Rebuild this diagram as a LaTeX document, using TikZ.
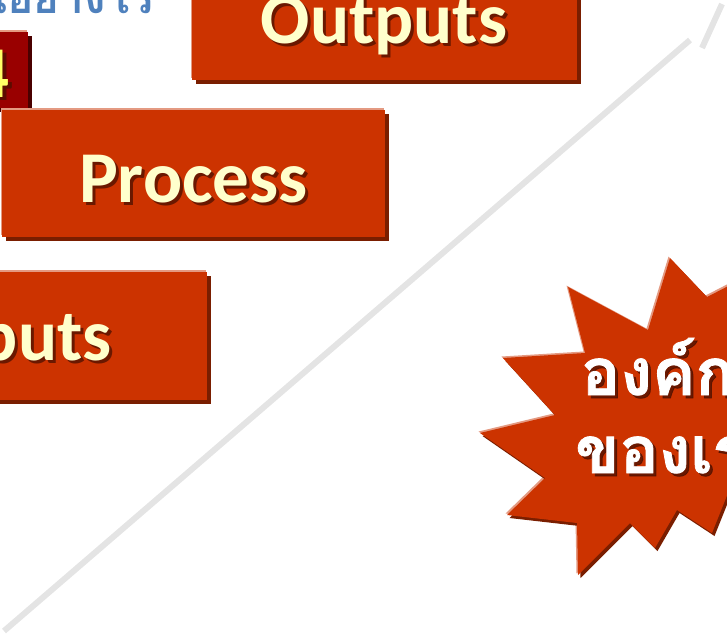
\documentclass[tikz,border=0pt]{standalone}
\usepackage{fontspec}
\setmainfont{Carlito}
\newfontfamily\thaifont[Script=Thai]{Loma}
\newfontfamily\thaiheavy[Script=Thai,FakeBold=1.2]{Loma}
\usetikzlibrary{shadows}
\definecolor{boxred}{HTML}{CC3300}
\definecolor{boxdark}{HTML}{7A1E00}
\definecolor{boxlight}{HTML}{E49A82}
\definecolor{darkbox}{HTML}{990000}
\definecolor{darkboxsh}{HTML}{4A0000}
\definecolor{cream}{HTML}{FFFFCC}
\definecolor{numyellow}{HTML}{FFFF66}
\definecolor{titleblue}{HTML}{4F81BD}
\definecolor{linegray}{HTML}{E4E4E4}
\definecolor{txtshadow}{HTML}{4A1000}
\tikzset{
  redbox/.style={rectangle, inner sep=0pt, fill=boxred,
    general shadow={shadow xshift=-1.5pt, shadow yshift=2.5pt, fill=boxlight},
    general shadow={shadow xshift=4pt, shadow yshift=-4pt, fill=boxdark}},
  numbox/.style={rectangle, inner sep=0pt, fill=darkbox,
    general shadow={shadow xshift=-1.5pt, shadow yshift=2.5pt, fill=boxlight},
    general shadow={shadow xshift=4pt, shadow yshift=-4pt, fill=darkboxsh}},
  bigtxt/.style={inner sep=0pt, anchor=base, text=cream, font=\fontsize{73}{80}\selectfont\bfseries},
  bigsh/.style={bigtxt, text=txtshadow, opacity=0.75},
  thaitxt/.style={inner sep=0pt, anchor=base west, text=white, font=\thaiheavy\fontsize{65}{70}\selectfont\bfseries},
  thaish/.style={thaitxt, text=txtshadow, opacity=0.75},
  divider/.style={draw=linegray, line width=6pt},
}
\begin{document}
\begin{tikzpicture}[x=1pt,y=-1pt]
\useasboundingbox (0,0) rectangle (727,635);
\clip (0,0) rectangle (727,635);

% diagonal divider
\coordinate (d1) at (4,631);
\coordinate (d2) at (690,40);
\coordinate (d3) at (702,48);
\coordinate (d4) at (722,4);
\draw[divider] (d1) -- (d2);
\draw[divider] (d3) -- (d4);

% title (cut at top)
\node[inner sep=0pt, anchor=base east, text=titleblue, font=\thaifont\fontsize{44}{48}\selectfont\bfseries] (title) at (154,13) {เป็นอย่างไร};

% number box
\node[numbox, minimum width=73pt, minimum height=76pt] (nbox) at (-8.5,70) {};
\node[bigtxt, text=txtshadow, opacity=0.75] (nums) at (-5.5,100) {4};
\node[bigtxt, text=numyellow] (num) at (-8.5,97) {4};

% boxes
\node[redbox, minimum width=385pt, minimum height=127pt] (outbox) at (384.5,16.5) {};
\node[redbox, minimum width=383pt, minimum height=127pt] (procbox) at (193.5,173.5) {};
\node[redbox, minimum width=382pt, minimum height=128pt] (inbox) at (16,336) {};

\node[bigsh] (outs) at (387,46) {Outputs};
\node[bigtxt] (out) at (384,43) {Outputs};
\node[bigsh] (procs) at (196.5,205) {Process};
\node[bigtxt] (proc) at (193.5,202) {Process};
\node[bigsh] (ins) at (19,363) {Inputs};
\node[bigtxt] (in) at (16,360) {Inputs};

% starburst
\def\burst{(670,258) -- (707,297) -- (775,262) -- (760,330) -- (830,330) -- (775,390) -- (840,430) -- (775,470) -- (800,540) -- (728,493) -- (712,533) -- (677,510) -- (655,548) -- (630,523) -- (578,575) -- (577,523) -- (507,515) -- (545,478) -- (480,433) -- (555,415) -- (503,358) -- (585,353) -- (568,287) -- (648,330) -- cycle}
\fill[boxlight, shift={(-1.5,-1.5)}] \burst;
\fill[boxdark, shift={(2.5,3)}] \burst;
\fill[boxred] \burst;

\node[thaish] (t1s) at (584,398) {องค์กร};
\node[thaitxt] (t1) at (581,395) {องค์กร};
\node[thaish] (t2s) at (578,476) {ของเรา};
\node[thaitxt] (t2) at (575,473) {ของเรา};
\end{tikzpicture}
\end{document}
